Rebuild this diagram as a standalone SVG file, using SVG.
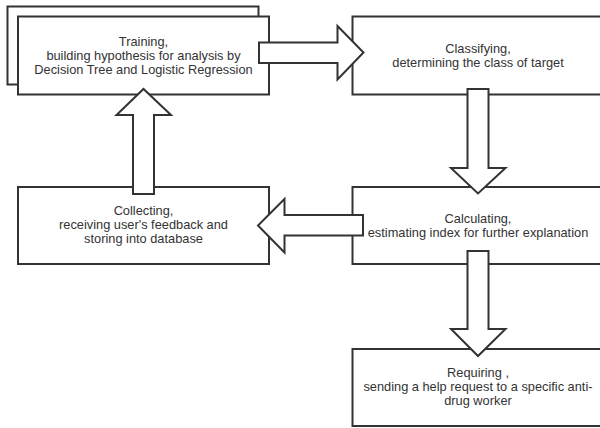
<svg xmlns="http://www.w3.org/2000/svg" width="600" height="428" viewBox="0 0 600 428">
<style>
.box{fill:#fff;stroke:#333;stroke-width:2}
.arr{fill:#fff;stroke:#333;stroke-width:2;stroke-linejoin:miter}
text{font-family:"Liberation Sans",Arial,sans-serif;font-size:12.8px;fill:#333;text-anchor:middle}
</style>
<rect width="600" height="428" fill="#fff"/>
<g id="node-training">
<rect class="box" x="7.5" y="6.5" width="251" height="78"/>
<rect class="box" x="18" y="16.5" width="251" height="78"/>
<text x="143.5" y="45.5">Training,</text>
<text x="143.5" y="59.5">building hypothesis for analysis by</text>
<text x="143.5" y="73.5">Decision Tree and Logistic Regression</text>
</g>
<g id="node-classifying">
<rect class="box" x="352.5" y="16.5" width="251" height="78"/>
<text x="478" y="52.5">Classifying,</text>
<text x="478" y="66.5">determining the class of target</text>
</g>
<g id="node-calculating">
<rect class="box" x="352.5" y="187" width="251" height="77"/>
<text x="478" y="222.5">Calculating,</text>
<text x="478" y="236.5">estimating index for further explanation</text>
</g>
<g id="node-collecting">
<rect class="box" x="18" y="187" width="251" height="77"/>
<text x="143.5" y="215">Collecting,</text>
<text x="143.5" y="229">receiving user's feedback and</text>
<text x="143.5" y="243">storing into database</text>
</g>
<g id="node-requiring">
<rect class="box" x="352.5" y="349" width="251" height="77"/>
<text x="478" y="377">Requiring ,</text>
<text x="478" y="391">sending a help request to a specific anti-</text>
<text x="478" y="405">drug worker</text>
</g>
<g id="connectors">
<polygon class="arr" points="259,42.5 337.5,42.5 337.5,26 363.5,52.5 337.5,79.5 337.5,63 259,63"/>
<polygon class="arr" points="467.5,89 488.5,89 488.5,168 505.5,168 478,193.5 451,168 467.5,168"/>
<polygon class="arr" points="467.5,251 488.5,251 488.5,329 505.5,329 478,356 451,329 467.5,329"/>
<polygon class="arr" points="363,215 363,235.5 284.5,235.5 284.5,252.5 258,225.5 284.5,199 284.5,215"/>
<polygon class="arr" points="133,194 154,194 154,115 171,115 143.5,89 116.5,115 133,115"/>
</g>
</svg>
